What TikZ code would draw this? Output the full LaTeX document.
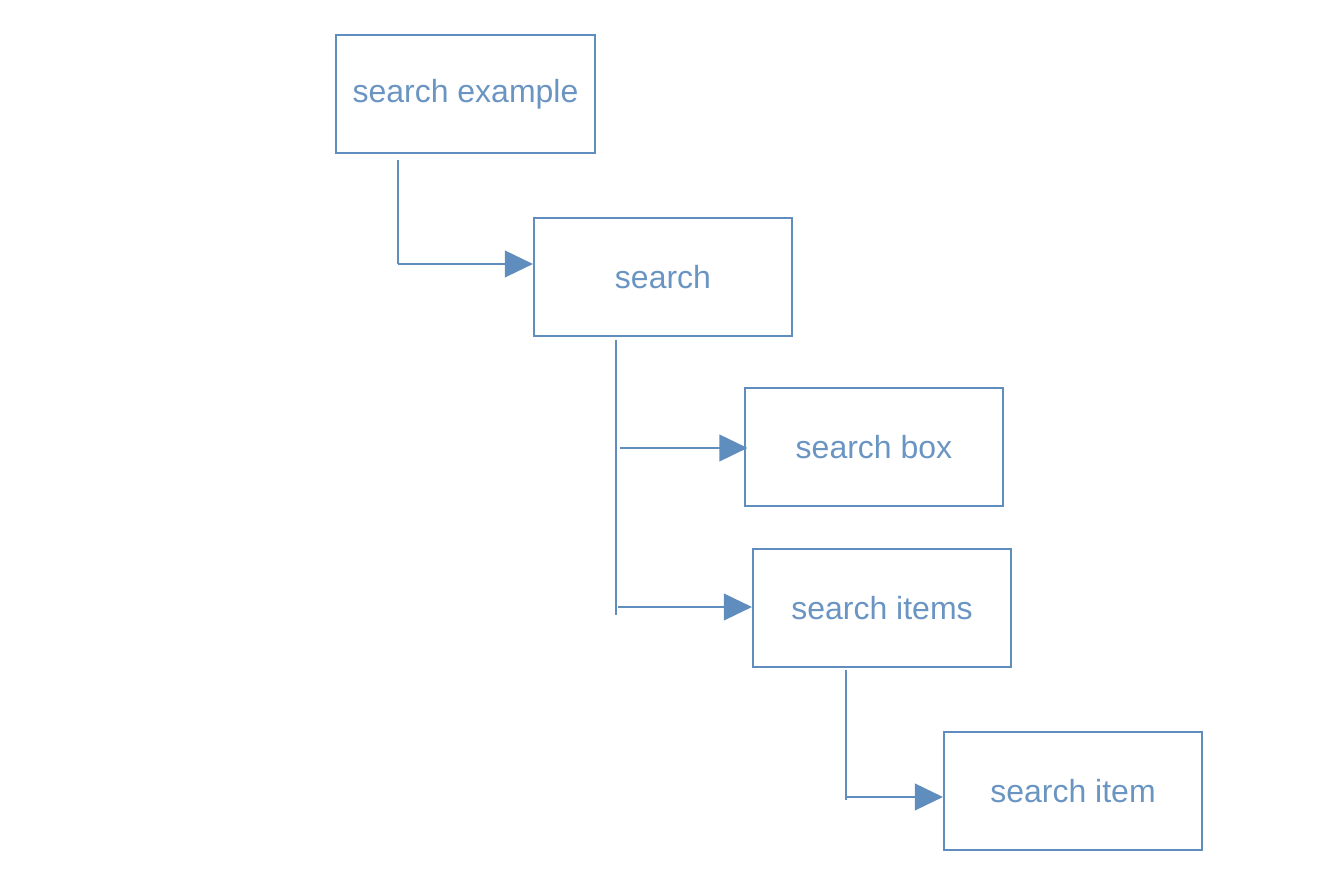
\documentclass[tikz,border=0pt]{standalone}
\usepackage{fontspec}
\setmainfont{Liberation Sans}
\usetikzlibrary{arrows.meta}
\definecolor{lineblue}{HTML}{5F8DBE}
\definecolor{textblue}{HTML}{6A95C2}
\begin{document}
\begin{tikzpicture}[x=0.01cm,y=-0.01cm]
        \useasboundingbox (0,0) rectangle (1342,880);

        \begin{scope}[every node/.style={rectangle,draw=lineblue,line width=0.55pt,
            minimum width=2.58cm,minimum height=1.18cm,text=textblue,font=\fontsize{9.1}{11}\selectfont}]
          \node (example) at (465.5,94)  {search example};
          \node (search)  at (663,277)   {search};
          \node (box)     at (874,447)   {search box};
          \node (items)   at (882,608)   {search items};
          \node (item)    at (1073,791)  {search item};
        \end{scope}

        \coordinate (e1) at (398,160);
        \coordinate (e2) at (398,264);
        \coordinate (s1) at (616,340);
        \coordinate (s2) at (616,615);
        \coordinate (s3) at (620,448);
        \coordinate (s4) at (618,607);
        \coordinate (i1) at (846,670);
        \coordinate (i2) at (846,800);
        \coordinate (i3) at (847,797);

        \begin{scope}[every edge/.style={draw=lineblue,line width=0.55pt},
            arr/.style={-{Triangle[length=8pt,width=7.6pt]}}]
          \path (e1) edge (e2);
          \path (e2) edge[arr] (search.west |- e2);
          \path (s1) edge (s2);
          \path (s3) edge[arr] ([xshift=1pt]box.west |- s3);
          \path (s4) edge[arr] (items.west |- s4);
          \path (i1) edge (i2);
          \path (i3) edge[arr] (item.west |- i3);
        \end{scope}

      \end{tikzpicture}
\end{document}
